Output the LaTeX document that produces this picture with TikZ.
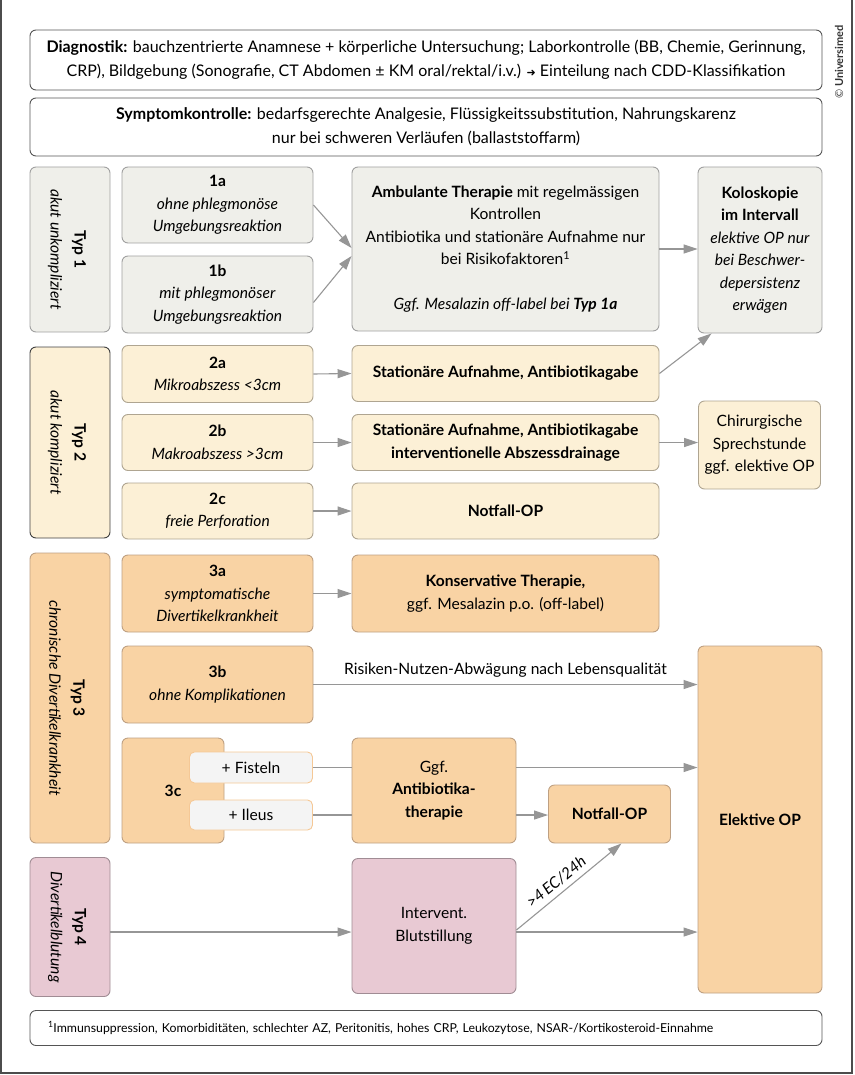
\documentclass[tikz,border=0pt]{standalone}
\usepackage{fontspec}
\setmainfont{Lato}
\newfontfamily\symfont{DejaVu Sans}
\usetikzlibrary{arrows.meta}

\definecolor{headline}{RGB}{85,85,85}
\definecolor{arrowgray}{RGB}{150,150,150}
\definecolor{boxgray}{RGB}{239,239,234}
\definecolor{linegray}{RGB}{160,160,160}
\definecolor{boxyellow}{RGB}{252,240,214}
\definecolor{lineyellow}{RGB}{175,165,145}
\definecolor{boxorange}{RGB}{249,211,164}
\definecolor{lineorange}{RGB}{190,160,130}
\definecolor{boxpink}{RGB}{232,201,211}
\definecolor{linepink}{RGB}{160,140,148}
\definecolor{boxpill}{RGB}{244,244,244}
\definecolor{linepill}{RGB}{245,200,150}

\tikzset{
  box/.style={draw, rounded corners=6pt, align=center, inner sep=1pt, line width=0.9pt,
    font=\fontsize{15.6}{22.5}\selectfont},
  headbox/.style={box, draw=headline, fill=white, minimum width=792pt,
    font=\fontsize{16}{24}\selectfont},
  graybox/.style={box, draw=linegray, fill=boxgray},
  yellowbox/.style={box, draw=lineyellow, fill=boxyellow},
  orangebox/.style={box, draw=lineorange, fill=boxorange},
  pinkbox/.style={box, draw=linepink, fill=boxpink},
  pillbox/.style={box, draw=linepill, fill=boxpill, rounded corners=5pt},
  typlabel/.style={rotate=-90, align=center, font=\fontsize{15.6}{24}\selectfont},
  arr/.style={draw=arrowgray, line width=1.1pt, -{Triangle[length=14pt,width=9pt]}},
  link/.style={draw=arrowgray, line width=1.1pt},
}

\begin{document}
\begin{tikzpicture}[x=1pt,y=-1pt]
\useasboundingbox (0,0) rectangle (854,1075);
\draw[black!70, line width=1.5pt] (1,0) -- (1,1073) -- (852,1073) -- (852,0);
\node[rotate=90, font=\fontsize{11}{13}\selectfont, text=black!80] (copy) at (839,62) {© \textbf{Universimed}};

% header
\node[headbox, minimum height=60pt] (diag) at (426,60)
  {\textbf{Diagnostik:} bauchzentrierte Anamnese + körperliche Untersuchung; Laborkontrolle (BB, Chemie, Gerinnung,\\
   CRP), Bildgebung (Sonografie, CT Abdomen ± KM oral/rektal/i.v.) {\symfont\fontsize{11}{13}\selectfont ➜} Einteilung nach CDD-Klassifikation};
\node[headbox, minimum height=58pt] (symp) at (426,127)
  {\textbf{Symptomkontrolle:} bedarfsgerechte Analgesie, Flüssigkeitssubstitution, Nahrungskarenz\\
   nur bei schweren Verläufen (ballaststoffarm)};

% Typ 1
\node[graybox, minimum width=80pt, minimum height=165pt] (typ1) at (70,249.5) {};
\node[typlabel] at ([xshift=-3pt]typ1.center) {\textbf{Typ 1}\\\textit{akut unkompliziert}};
\node[graybox, minimum width=191pt, minimum height=76pt] (t1a) at (217.5,205)
  {\textbf{1a}\\\textit{ohne phlegmonöse}\\\textit{Umgebungsreaktion}};
\node[graybox, minimum width=191pt, minimum height=77pt] (t1b) at (217.5,294.5)
  {\textbf{1b}\\\textit{mit phlegmonöser}\\\textit{Umgebungsreaktion}};
\node[graybox, minimum width=307pt, minimum height=164pt] (amb) at (505.5,249)
  {\textbf{Ambulante Therapie} mit regelmässigen\\Kontrollen\\Antibiotika und stationäre Aufnahme nur\\
   bei Risikofaktoren\textsuperscript{1}\\\mbox{}\\\textit{Ggf. Mesalazin off-label bei \textbf{Typ 1a}}};
\node[graybox, minimum width=124pt, minimum height=166pt] (kol) at (760,250)
  {\textbf{Koloskopie}\\\textbf{im Intervall}\\\textit{elektive OP nur}\\\textit{bei Beschwer-}\\
   \textit{depersistenz}\\\textit{erwägen}};

% Typ 2
\node[yellowbox, draw=black!75, minimum width=80pt, minimum height=191pt] (typ2) at (70,442.5) {};
\node[typlabel] at ([xshift=-3pt]typ2.center) {\textbf{Typ 2}\\\textit{akut kompliziert}};
\node[yellowbox, minimum width=191pt, minimum height=57pt] (t2a) at (217.5,374)
  {\textbf{2a}\\\textit{Mikroabszess <3cm}};
\node[yellowbox, minimum width=191pt, minimum height=56pt] (t2b) at (217.5,442.5)
  {\textbf{2b}\\\textit{Makroabszess >3cm}};
\node[yellowbox, minimum width=191pt, minimum height=56pt] (t2c) at (217.5,511)
  {\textbf{2c}\\\textit{freie Perforation}};
\node[yellowbox, minimum width=307pt, minimum height=56pt] (s2a) at (505.5,373.5)
  {\textbf{Stationäre Aufnahme, Antibiotikagabe}};
\node[yellowbox, minimum width=307pt, minimum height=56pt] (s2b) at (505.5,442.5)
  {\textbf{Stationäre Aufnahme, Antibiotikagabe}\\\textbf{interventionelle Abszessdrainage}};
\node[yellowbox, minimum width=307pt, minimum height=56pt] (s2c) at (505.5,511)
  {\textbf{Notfall-OP}};
\node[yellowbox, minimum width=122pt, minimum height=88pt] (chir) at (759.5,445)
  {Chirurgische\\Sprechstunde\\ggf. elektive OP};

% Typ 3
\node[orangebox, minimum width=80pt, minimum height=290pt] (typ3) at (70,698) {};
\node[typlabel] at ([xshift=-3pt]typ3.center) {\textbf{Typ 3}\\\textit{chronische Divertikelkrankheit}};
\node[orangebox, minimum width=191pt, minimum height=77pt] (t3a) at (217.5,593.5)
  {\textbf{3a}\\\textit{symptomatische}\\\textit{Divertikelkrankheit}};
\node[orangebox, minimum width=307pt, minimum height=77pt] (kons) at (505.5,593.5)
  {\textbf{Konservative Therapie,}\\ggf. Mesalazin p.o. (off-label)};
\node[orangebox, minimum width=191pt, minimum height=77pt] (t3b) at (217.5,684.5)
  {\textbf{3b}\\\textit{ohne Komplikationen}};
\node[orangebox, minimum width=102pt, minimum height=105pt] (t3c) at (173,790.5) {\textbf{3c}};
\node[pillbox, minimum width=123pt, minimum height=31pt] (fist) at (251,767.5) {+ Fisteln};
\node[pillbox, minimum width=123pt, minimum height=30pt] (ileus) at (251,815) {+ Ileus};
\node[orangebox, minimum width=164pt, minimum height=105pt] (ggf) at (434,790.5)
  {Ggf.\\\textbf{Antibiotika-}\\\textbf{therapie}};
\node[orangebox, minimum width=122pt, minimum height=58pt] (n3) at (609.5,814) {\textbf{Notfall-OP}};
\node[orangebox, minimum width=124pt, minimum height=347pt] (elek) at (760,819.5) {\textbf{Elektive OP}};

% Typ 4
\node[pinkbox, minimum width=80pt, minimum height=139pt] (typ4) at (70,927) {};
\node[typlabel] at ([xshift=-3pt]typ4.center) {\textbf{Typ 4}\\\textit{Divertikelblutung}};
\node[pinkbox, minimum width=164pt, minimum height=135pt] (int) at (434,926)
  {Intervent.\\Blutstillung};

% footnote
\node[headbox, minimum height=35pt, align=left, text width=756pt, font=\fontsize{12.3}{14}\selectfont] (foot) at (426,1028)
  {\textsuperscript{1}Immunsuppression, Komorbiditäten, schlechter AZ, Peritonitis, hohes CRP, Leukozytose, NSAR-/Kortikosteroid-Einnahme};

% connectors
\draw[arr] (t1a.east) -- ([yshift=1pt]amb.west);
\draw[arr] ([yshift=-8pt]t1b.east) -- ([yshift=-7pt]amb.west);
\draw[arr] (amb.east) -- (kol.west |- amb.east);
\draw[arr] (s2a.east) -- ([xshift=14pt]kol.south west);
\draw[arr] (t2a.east) -- (s2a.west);
\draw[arr] (t2b.east) -- (s2b.west);
\draw[arr] (t2c.east) -- (s2c.west);
\draw[arr] (s2b.east) -- (chir.west |- s2b.east);
\draw[arr] (t3a.east) -- (kons.west);
\draw[arr] (t3b.east) -- (t3b.east -| elek.west)
  node[midway, above=3pt, font=\fontsize{15.6}{18}\selectfont] {Risiken-Nutzen-Abwägung nach Lebensqualität};
\draw[link] (fist.east) -- (fist.east -| ggf.west);
\draw[link] (ileus.east) -- (ileus.east -| ggf.west);
\draw[arr] (ggf.east |- fist.east) -- (fist.east -| elek.west);
\draw[arr] (ggf.east |- ileus.east) -- (n3.west |- ileus.east);
\draw[arr] ([yshift=-5pt]typ4.east) -- ([yshift=-6pt]int.west);
\draw[arr] ([yshift=-6pt]int.east) -- ([yshift=-6pt]int.east -| elek.west);
\draw[arr] ([yshift=-4pt]int.east) -- ([xshift=12pt]n3.south)
  node[pos=0.45, above=2pt, sloped, font=\itshape\fontsize{15.6}{18}\selectfont] {>4\,EC/24h};
\end{tikzpicture}
\end{document}
